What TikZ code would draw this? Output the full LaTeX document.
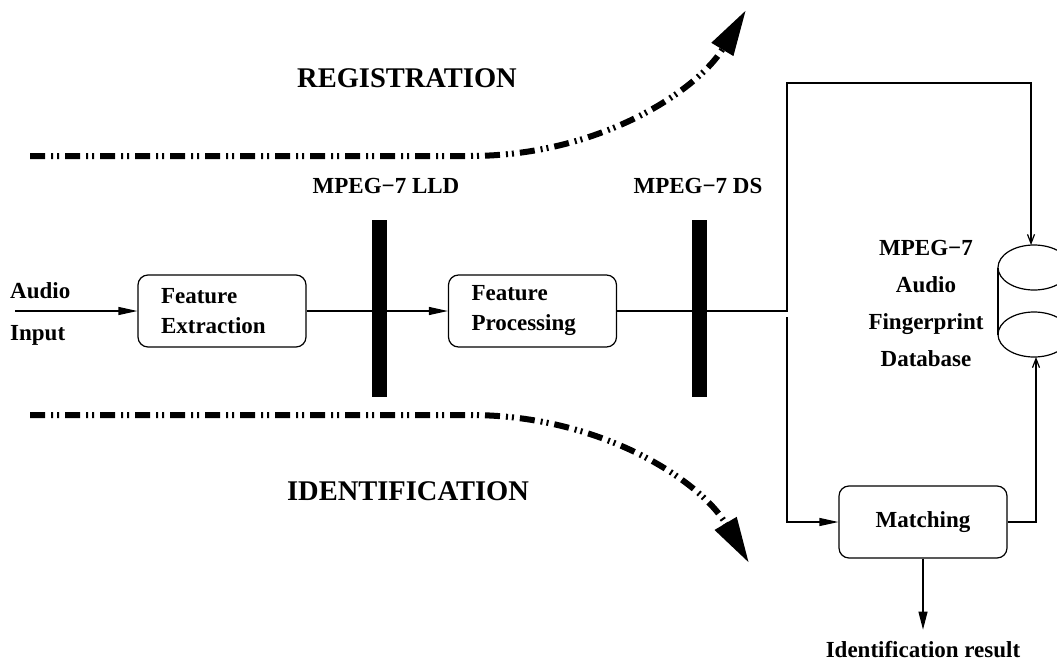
\documentclass[tikz,border=0pt]{standalone}
\usepackage{fontspec}
\setmainfont{Liberation Serif}
\usepackage{tikz}
\usetikzlibrary{positioning}
\usetikzlibrary{arrows.meta}

\begin{document}
\begin{tikzpicture}[x=1pt, y=-1pt,
		box/.style={draw, line width=1.2pt, rounded corners=10pt, minimum width=168pt, minimum height=72pt, text width=122pt, inner xsep=23pt, align=left, font=\bfseries\fontsize{23}{30}\selectfont},
		lbl/.style={inner sep=0pt, font=\bfseries\fontsize{23}{30}\selectfont},
		biglbl/.style={inner sep=0pt, font=\bfseries\fontsize{28.5}{34}\selectfont},
		flow/.style={line width=6pt, dash pattern=on 15pt off 6pt on 2pt off 4pt on 2pt off 6pt, -{Triangle[length=46pt,width=24pt]}},
		con/.style={line width=1.2pt},
		fat/.style={-{Triangle[length=19pt,width=8pt]}},
		thin/.style={-{Straight Barb[length=9pt,width=7pt]}}]
			\path[use as bounding box, clip] (0,0) rectangle (1057,661);

			\node[biglbl] (reg) at (407,78) {REGISTRATION};
			\node[biglbl] (ident) at (408,491) {IDENTIFICATION};
			\coordinate (regs) at (30,156);
			\coordinate (regm) at (470,156);
			\coordinate (rege) at (746,10);
			\coordinate (ids) at (30,415);
			\coordinate (idm) at (470,415);
			\coordinate (ide) at (749,563);
			\draw[flow] (regs) -- (regm) .. controls (600,156) and (698,90) .. (rege);
			\draw[flow] (ids) -- (idm) .. controls (600,415) and (700,480) .. (ide);

			\node[lbl, anchor=base west] (audio) at (10,298) {Audio};
			\node[lbl, anchor=base west] (input) at (10,340) {Input};
			\node[box] (fe) at (222,311) {Feature\\Extraction};
			\node[box] (fp) at (532.5,311) {Feature\\Processing};
			\node[lbl, anchor=base] (lld) at (386,193) {MPEG−7 LLD};
			\node[lbl, anchor=base] (ds) at (698,193) {MPEG−7 DS};
			\coordinate (ain) at (15,311);
			\draw[con, fat] (ain) -- (fe.west);
			\draw[con, fat] (fe.east) -- (fp.west);
			\node[fill, minimum width=15pt, minimum height=177pt, inner sep=0pt] (lldbar) at (379.5,308.5) {};
			\node[fill, minimum width=15pt, minimum height=177pt, inner sep=0pt] (dsbar) at (699.5,308.5) {};

			\draw[con] (1034,267.5) ellipse [x radius=36pt, y radius=22.5pt];
			\draw[con] (1034,334.5) ellipse [x radius=36pt, y radius=22.5pt];
			\draw[con] (998,267.5) -- (998,334.5);
			\draw[con] (1070,267.5) -- (1070,334.5);
			\coordinate (dbtop) at (1031,245);
			\coordinate (dbbot) at (1036,357);
			\node[lbl, align=center, font=\bfseries\fontsize{23}{37}\selectfont] (db) at (926,303) {MPEG−7\\Audio\\Fingerprint\\Database};

			\node[box, align=center] (match) at (923,522) {Matching};
			\node[lbl, inner ysep=11pt, anchor=base] (result) at (923,657) {Identification result};
			\coordinate (split) at (787,311);
			\coordinate (splitb) at (787,317);
			\coordinate (toprt) at (1031,83);
			\draw[con, thin] (fp.east) -- (split) |- (toprt) -- (dbtop);
			\draw[con, fat] (splitb) |- (match.west);
			\draw[con, thin] (match.east) -| (dbbot);
			\draw[con, -{Triangle[length=18pt,width=9pt]}] (match.south) -- (result.north);
		\end{tikzpicture}
\end{document}
